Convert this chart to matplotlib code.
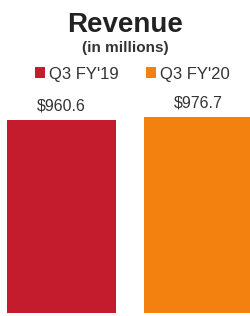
import matplotlib
matplotlib.use("Agg")
import matplotlib.pyplot as plt
from matplotlib.patches import Patch

plt.rcParams['font.family'] = ['Liberation Sans', 'DejaVu Sans']

categories = ["Q3 FY'19", "Q3 FY'20"]
values = [960.6, 976.7]
labels = ["$960.6", "$976.7"]
colors = ["#C41C2D", "#F2810F"]

fig = plt.figure(figsize=(2.5, 3.16), dpi=100)
ax = fig.add_axes([0, 3/316, 1, (313-117)/316])
x = list(range(len(categories)))
bars = ax.bar(x, values, width=0.8, color=colors)
ax.set_xlim(-61.5/137, (250-61.5)/137)
ax.set_ylim(0, max(values))
ax.axis('off')
ax.bar_label(bars, labels=labels, padding=4.5, fontsize=11.5, color='#333333', clip_on=False)
for t in ax.texts:
    t.set_clip_on(False)

fig.text(0.5, 1-32/316, "Revenue", ha='center', va='baseline', fontsize=20,
         fontweight='bold', color='#222222')
fig.text(0.5, 1-52/316, "(in millions)", ha='center', va='baseline', fontsize=11,
         fontweight='bold', color='#333333')

handles = [Patch(facecolor=c, edgecolor='none') for c in colors]
fig.legend(handles, categories, loc='center', bbox_to_anchor=(0.53, 1-74/316), ncol=2,
           frameon=False, fontsize=12, handlelength=0.6, handleheight=0.6,
           handletextpad=0.25, columnspacing=1.6, labelcolor='#333333',
           borderaxespad=0, borderpad=0)

fig.savefig("out.png", dpi=100)
